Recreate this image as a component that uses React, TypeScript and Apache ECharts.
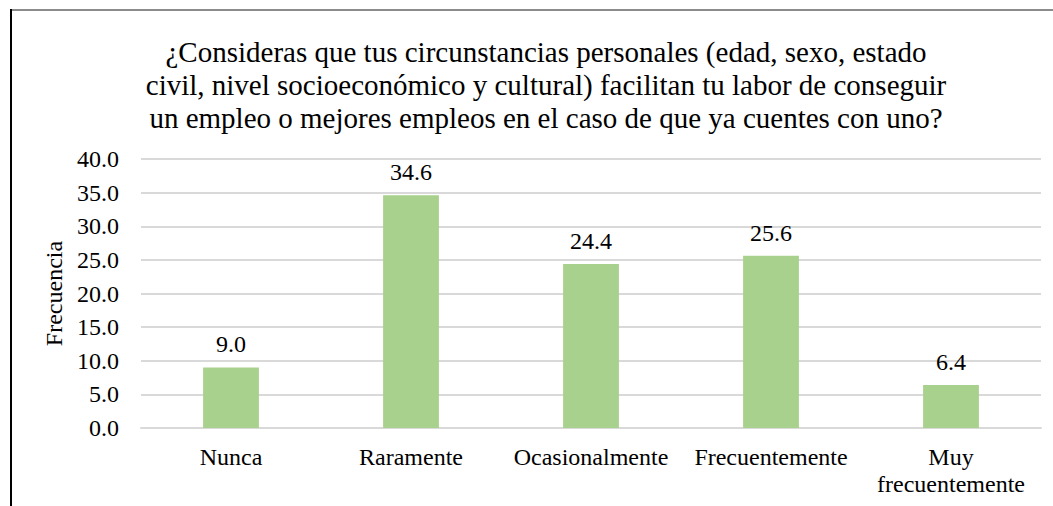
import React, { useEffect, useRef } from "react";
import * as echarts from "echarts";

const categories = ["Nunca", "Raramente", "Ocasionalmente", "Frecuentemente", "Muy\nfrecuentemente"];
const values = [9.0, 34.6, 24.4, 25.6, 6.4];
const titleText =
  "¿Consideras que tus circunstancias personales (edad, sexo, estado\ncivil, nivel socioeconómico y cultural) facilitan tu labor de conseguir\nun empleo o mejores empleos en el caso de que ya cuentes con uno?";
const yAxisName = "Frecuencia";

const FONT = "Liberation Serif";

export default function App() {
  const ref = useRef<HTMLDivElement>(null);
  useEffect(() => {
    if (!ref.current) return;
    const chart = echarts.init(ref.current, null, { renderer: "svg" });
    chart.setOption({
      animation: false,
      backgroundColor: "#ffffff",
      textStyle: { fontFamily: FONT },
      title: {
        text: titleText,
        left: 541,
        top: 30,
        textAlign: "center",
        textStyle: { fontFamily: FONT, fontSize: 29, fontWeight: "normal", color: "#000", lineHeight: 33 },
      },
      grid: { left: 141, right: 12, top: 159, bottom: 78, containLabel: false },
      xAxis: {
        type: "category",
        data: categories,
        axisLine: { show: true, lineStyle: { color: "#d9d9d9", width: 2 } },
        axisTick: { show: false },
        axisLabel: { fontFamily: FONT, fontSize: 24, color: "#000", margin: 15, lineHeight: 27, interval: 0 },
      },
      yAxis: {
        type: "value",
        min: 0,
        max: 40,
        interval: 5,
        name: yAxisName,
        nameLocation: "middle",
        nameGap: 74,
        nameTextStyle: { fontFamily: FONT, fontSize: 24, color: "#000" },
        axisLine: { show: false },
        axisTick: { show: false },
        splitLine: { lineStyle: { color: "#d9d9d9", width: 2 } },
        axisLabel: {
          fontFamily: FONT,
          fontSize: 24,
          color: "#000",
          margin: 22,
          formatter: (v: number) => v.toFixed(1),
        },
      },
      series: [
        {
          type: "bar",
          data: values,
          barWidth: "31%",
          itemStyle: { color: "#a9d18e" },
          label: {
            show: true,
            position: "top",
            distance: 11,
            fontFamily: FONT,
            fontSize: 24,
            color: "#000",
            formatter: (p: any) => Number(p.value).toFixed(1),
          },
        },
      ],
      graphic: [
        { type: "line", shape: { x1: 11, y1: 10, x2: 1053, y2: 10 }, style: { stroke: "#8c8c8c", lineWidth: 2 } },
        { type: "line", shape: { x1: 11, y1: 9, x2: 11, y2: 506 }, style: { stroke: "#000000", lineWidth: 2 } },
      ],
    });
    return () => chart.dispose();
  }, []);
  return (
    <div
      ref={ref}
      style={{ position: "fixed", left: 0, top: 0, width: 1053, height: 506, background: "#fff" }}
    />
  );
}
